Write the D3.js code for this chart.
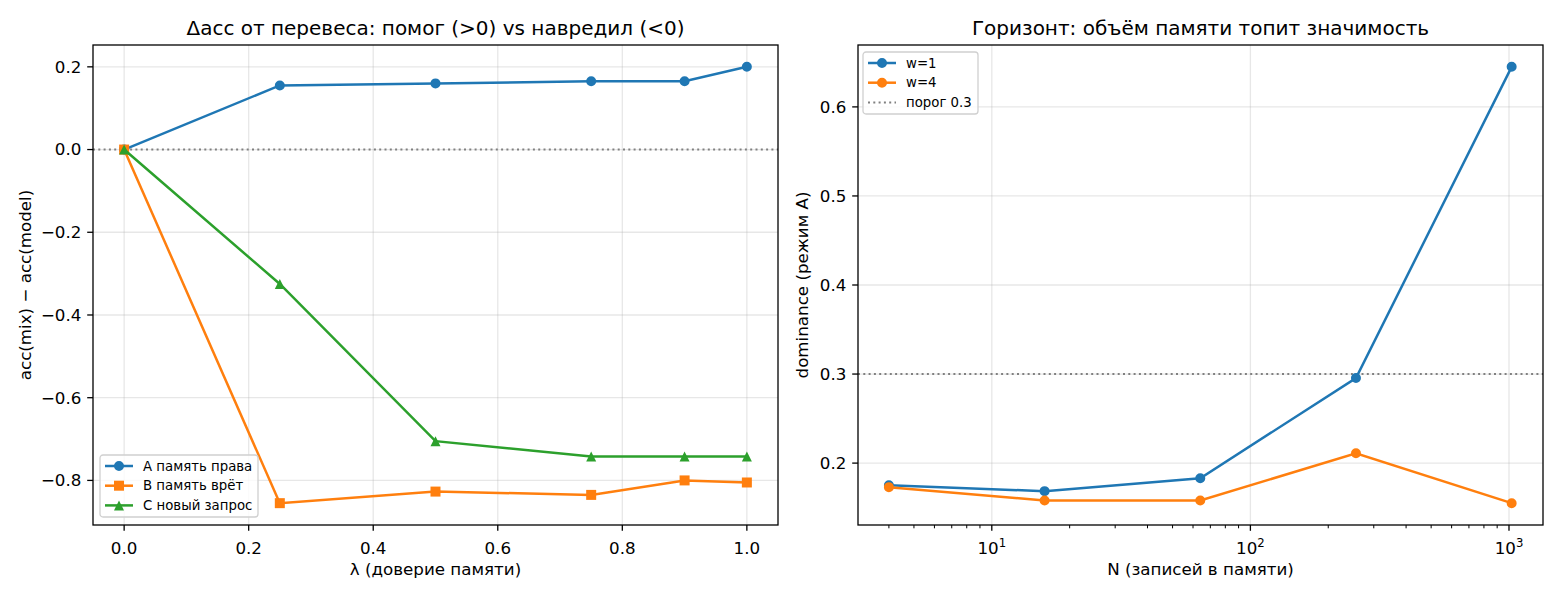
<!DOCTYPE html>
<html>
<head>
<meta charset="utf-8">
<script src="https://cdn.jsdelivr.net/npm/d3@7"></script>
<style>
  body { margin: 0; background: #fff; }
  svg { font-family: "DejaVu Sans", sans-serif; }
</style>
</head>
<body>
<div id="chart"></div>
<script>
// левый график: λ и Δacc
const lambdas = [0, 0.25, 0.5, 0.75, 0.9, 1.0]
const deltaA = [0, 0.155, 0.16, 0.165, 0.165, 0.2]
const deltaB = [0, -0.855, -0.827, -0.835, -0.8, -0.805]
const deltaC = [0, -0.325, -0.705, -0.742, -0.742, -0.742]
const leftXTicks = [0, 0.2, 0.4, 0.6, 0.8, 1.0]
const leftYTicks = [-0.8, -0.6, -0.4, -0.2, 0, 0.2]

// правый график: N и dominance
const sizes = [4, 16, 64, 256, 1024]
const domW1 = [0.175, 0.1685, 0.183, 0.2955, 0.645]
const domW4 = [0.173, 0.158, 0.158, 0.211, 0.155]
const rightXTicks = [10, 100, 1000]
const rightYTicks = [0.2, 0.3, 0.4, 0.5, 0.6]
const threshold = 0.3

const W = 1560, H = 600
const blue = '#1f77b4', orange = '#ff7f0e', green = '#2ca02c'
const FS = 16.7   // 10pt при 120 dpi

const svg = d3.select('#chart').append('svg')
    .attr('width', W)
    .attr('height', H)

const fmt = v => d3.format('.1f')(v).replace('-', '\u2212')

function markerPath (m) {
    if (m === 's') return 'M-5,-5H5V5H-5Z'
    if (m === '^') return 'M0,-5L5,5L-5,5Z'
    return d3.symbol(d3.symbolCircle, 78.5)()
}

function panel (opt) {
    const g = svg.append('g')
    const {x, y, x0, x1, y0, y1} = opt

    // сетка
    g.append('g').selectAll('line').data(opt.xTicks).enter().append('line')
        .attr('x1', d => x(d)).attr('x2', d => x(d))
        .attr('y1', y0).attr('y2', y1)
        .attr('stroke', '#b0b0b0').attr('stroke-opacity', 0.3).attr('stroke-width', 1.3)
    g.append('g').selectAll('line').data(opt.yTicks).enter().append('line')
        .attr('x1', x0).attr('x2', x1)
        .attr('y1', d => y(d)).attr('y2', d => y(d))
        .attr('stroke', '#b0b0b0').attr('stroke-opacity', 0.3).attr('stroke-width', 1.3)

    // пунктирная линия
    g.append('line')
        .attr('x1', x0).attr('x2', x1)
        .attr('y1', y(opt.hline)).attr('y2', y(opt.hline))
        .attr('stroke', 'gray').attr('stroke-width', 2)
        .attr('stroke-dasharray', '2 3.3')

    // серии
    opt.series.forEach(s => {
        const pts = s.xs.map((v, i) => [x(v), y(s.ys[i])])
        g.append('path')
            .attr('d', d3.line()(pts))
            .attr('fill', 'none')
            .attr('stroke', s.color)
            .attr('stroke-width', 2.5)
        g.append('g').selectAll('path').data(pts).enter().append('path')
            .attr('transform', d => `translate(${d[0]},${d[1]})`)
            .attr('d', markerPath(s.marker))
            .attr('fill', s.color)
    })

    // рамка
    g.append('rect')
        .attr('x', x0).attr('y', y1)
        .attr('width', x1 - x0).attr('height', y0 - y1)
        .attr('fill', 'none').attr('stroke', '#000').attr('stroke-width', 1.3)

    // оси
    const xa = g.append('g').attr('transform', `translate(0,${y0})`)
    if (opt.minor) {
        xa.selectAll('line.minor').data(opt.minor).enter().append('line')
            .attr('x1', d => x(d)).attr('x2', d => x(d))
            .attr('y1', 0).attr('y2', 3.3)
            .attr('stroke', '#000').attr('stroke-width', 1)
    }
    opt.xTicks.forEach(t => {
        xa.append('line').attr('x1', x(t)).attr('x2', x(t)).attr('y1', 0).attr('y2', 5.8)
            .attr('stroke', '#000').attr('stroke-width', 1.3)
        const tx = xa.append('text').attr('x', x(t)).attr('y', 29)
            .attr('text-anchor', 'middle').attr('font-size', FS).attr('fill', '#000')
        opt.xLabel(tx, t)
    })
    const ya = g.append('g').attr('transform', `translate(${x0},0)`)
    opt.yTicks.forEach(t => {
        ya.append('line').attr('x1', 0).attr('x2', -5.8).attr('y1', y(t)).attr('y2', y(t))
            .attr('stroke', '#000').attr('stroke-width', 1.3)
        ya.append('text').attr('x', -11.6).attr('y', y(t)).attr('dy', '0.35em')
            .attr('text-anchor', 'end').attr('font-size', FS).attr('fill', '#000')
            .text(fmt(t))
    })

    // подписи
    g.append('text').attr('x', (x0 + x1) / 2).attr('y', 35)
        .attr('text-anchor', 'middle').attr('font-size', 20).attr('fill', '#000')
        .text(opt.title)
    g.append('text').attr('x', (x0 + x1) / 2).attr('y', 575)
        .attr('text-anchor', 'middle').attr('font-size', FS).attr('fill', '#000')
        .text(opt.xTitle)
    g.append('text')
        .attr('transform', `translate(${opt.yTitleX},${(y0 + y1) / 2}) rotate(-90)`)
        .attr('text-anchor', 'middle').attr('font-size', FS).attr('fill', '#000')
        .text(opt.yTitle)

    // легенда
    const L = opt.legend
    const lg = g.append('g').attr('transform', `translate(${L.x},${L.y})`)
    lg.append('rect').attr('width', L.w).attr('height', L.h)
        .attr('rx', 3).attr('fill', '#fff').attr('fill-opacity', 0.8)
        .attr('stroke', '#d0d0d0').attr('stroke-width', 1.3)
    L.items.forEach((it, i) => {
        const cy = 11 + i * 19.7
        if (it.dotted) {
            lg.append('line').attr('x1', 5).attr('x2', 33).attr('y1', cy).attr('y2', cy)
                .attr('stroke', 'gray').attr('stroke-width', 2).attr('stroke-dasharray', '2 3.3')
        } else {
            lg.append('line').attr('x1', 5).attr('x2', 33).attr('y1', cy).attr('y2', cy)
                .attr('stroke', it.color).attr('stroke-width', 2.5)
            lg.append('path').attr('transform', `translate(19,${cy})`)
                .attr('d', markerPath(it.marker)).attr('fill', it.color)
        }
        lg.append('text').attr('x', 43).attr('y', cy).attr('dy', '0.35em')
            .attr('font-size', 13.3).attr('fill', '#000').text(it.label)
    })
}

// левая панель
const lx = d3.scaleLinear().domain([-0.05, 1.05]).range([93, 778])
const ly = d3.scaleLinear().domain([-0.9078, 0.2528]).range([525, 45])
panel({
    x: lx, y: ly, x0: 93, x1: 778, y0: 525, y1: 45,
    xTicks: leftXTicks, yTicks: leftYTicks, hline: 0,
    xLabel: (t, v) => t.text(d3.format('.1f')(v)),
    series: [
        {xs: lambdas, ys: deltaA, color: blue, marker: 'o'},
        {xs: lambdas, ys: deltaB, color: orange, marker: 's'},
        {xs: lambdas, ys: deltaC, color: green, marker: '^'}
    ],
    title: 'Δacc от перевеса: помог (>0) vs навредил (<0)',
    xTitle: 'λ (доверие памяти)',
    yTitle: 'acc(mix) − acc(model)',
    yTitleX: 31,
    legend: {x: 100, y: 455, w: 158, h: 62, items: [
        {label: 'A память права', color: blue, marker: 'o'},
        {label: 'B память врёт', color: orange, marker: 's'},
        {label: 'C новый запрос', color: green, marker: '^'}
    ]}
})

// правая панель
const rx = d3.scaleLog().domain([Math.pow(10, 0.4826), Math.pow(10, 3.1315)]).range([858, 1543])
const ry = d3.scaleLinear().domain([0.1305, 0.6695]).range([525, 45])
const minor = []
;[1, 10, 100, 1000].forEach(b => {
    for (let k = 2; k <= 9; k++) {
        const v = b * k
        if (v >= rx.domain()[0] && v <= rx.domain()[1]) minor.push(v)
    }
})
panel({
    x: rx, y: ry, x0: 858, x1: 1543, y0: 525, y1: 45,
    xTicks: rightXTicks, yTicks: rightYTicks, hline: threshold, minor: minor,
    xLabel: (t, v) => {
        t.append('tspan').text('10')
        t.append('tspan').attr('dy', -7).attr('font-size', 11.7).text(String(Math.round(Math.log10(v))))
    },
    series: [
        {xs: sizes, ys: domW1, color: blue, marker: 'o'},
        {xs: sizes, ys: domW4, color: orange, marker: 'o'}
    ],
    title: 'Горизонт: объём памяти топит значимость',
    xTitle: 'N (записей в памяти)',
    yTitle: 'dominance (режим A)',
    yTitleX: 808,
    legend: {x: 863, y: 52, w: 115, h: 62, items: [
        {label: 'w=1', color: blue, marker: 'o'},
        {label: 'w=4', color: orange, marker: 'o'},
        {label: 'порог 0.3', dotted: true}
    ]}
})
</script>
</body>
</html>
